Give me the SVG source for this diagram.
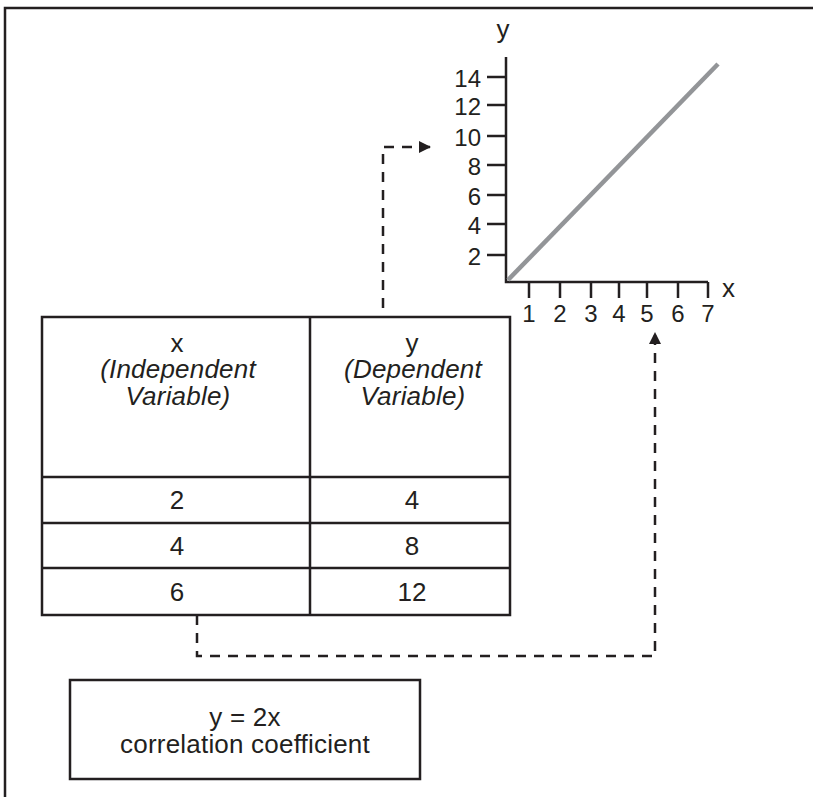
<svg xmlns="http://www.w3.org/2000/svg" width="813" height="797" viewBox="0 0 813 797">
<defs>
<style>
.t{font-family:"Liberation Sans",Arial,sans-serif;font-size:26px;fill:#231f20}
.s{font-size:24px}
.w{letter-spacing:0.2px}
.i{font-style:italic}
.m{text-anchor:middle}
.e{text-anchor:end}
.b{fill:none;stroke:#231f20;stroke-width:2.5}
.d{fill:none;stroke:#231f20;stroke-width:2.5;stroke-dasharray:10 8}
</style>
<marker id="ah" viewBox="0 0 10 10" refX="10" refY="5" markerWidth="16" markerHeight="12" markerUnits="userSpaceOnUse" orient="auto">
<path d="M0,0 L10,5 L0,10 z" fill="#231f20"/>
</marker>
</defs>
<rect width="813" height="797" fill="#fff"/>
<g id="frame"><path d="M5,797 V8 H813" class="b"/></g>
<g id="graph">
<path d="M506,57 V282 H708" class="b"/>
<path d="M487,77 H506 M487,105 H506 M487,136 H506 M487,165 H506 M487,195 H506 M487,224 H506 M487,255 H506" class="b"/>
<path d="M529,282 V298 M560,282 V298 M591,282 V298 M619,282 V298 M647,282 V298 M678,282 V298 M708,282 V298" class="b"/>
<line x1="508" y1="280" x2="718" y2="64" stroke="#939598" stroke-width="4.5"/>
<text class="t m" x="503" y="38">y</text>
<text class="t" x="722" y="297">x</text>
<text class="t s e" x="481" y="87">14</text>
<text class="t s e" x="481" y="115">12</text>
<text class="t s e" x="481" y="146">10</text>
<text class="t s e" x="481" y="175">8</text>
<text class="t s e" x="481" y="205">6</text>
<text class="t s e" x="481" y="234">4</text>
<text class="t s e" x="481" y="265">2</text>
<text class="t s m" x="529" y="322">1</text>
<text class="t s m" x="560" y="322">2</text>
<text class="t s m" x="591" y="322">3</text>
<text class="t s m" x="619" y="322">4</text>
<text class="t s m" x="647" y="322">5</text>
<text class="t s m" x="678" y="322">6</text>
<text class="t s m" x="708" y="322">7</text>
</g>
<g id="table">
<rect x="42" y="317" width="468" height="298" class="b"/>
<path d="M310,317 V615 M42,477 H510 M42,523 H510 M42,568 H510" class="b"/>
<text class="t m" x="177" y="352">x</text>
<text class="t m i w" x="178" y="378">(Independent</text>
<text class="t m i w" x="178" y="405">Variable)</text>
<text class="t m" x="412" y="352">y</text>
<text class="t m i w" x="413" y="378">(Dependent</text>
<text class="t m i w" x="413" y="405">Variable)</text>
<text class="t m" x="177" y="509">2</text>
<text class="t m" x="412" y="509">4</text>
<text class="t m" x="177" y="555">4</text>
<text class="t m" x="412" y="555">8</text>
<text class="t m" x="177" y="601">6</text>
<text class="t m" x="412" y="601">12</text>
</g>
<g id="equation">
<rect x="70" y="680" width="350" height="99" class="b"/>
<text class="t m w" x="245" y="726">y = 2x</text>
<text class="t m w" x="245" y="753">correlation coefficient</text>
</g>
<g id="connectors">
<path d="M383,308 V147 H431" class="d" marker-end="url(#ah)"/>
<path d="M197,615 V656 H655 V332" class="d" marker-end="url(#ah)"/>
</g>
</svg>
